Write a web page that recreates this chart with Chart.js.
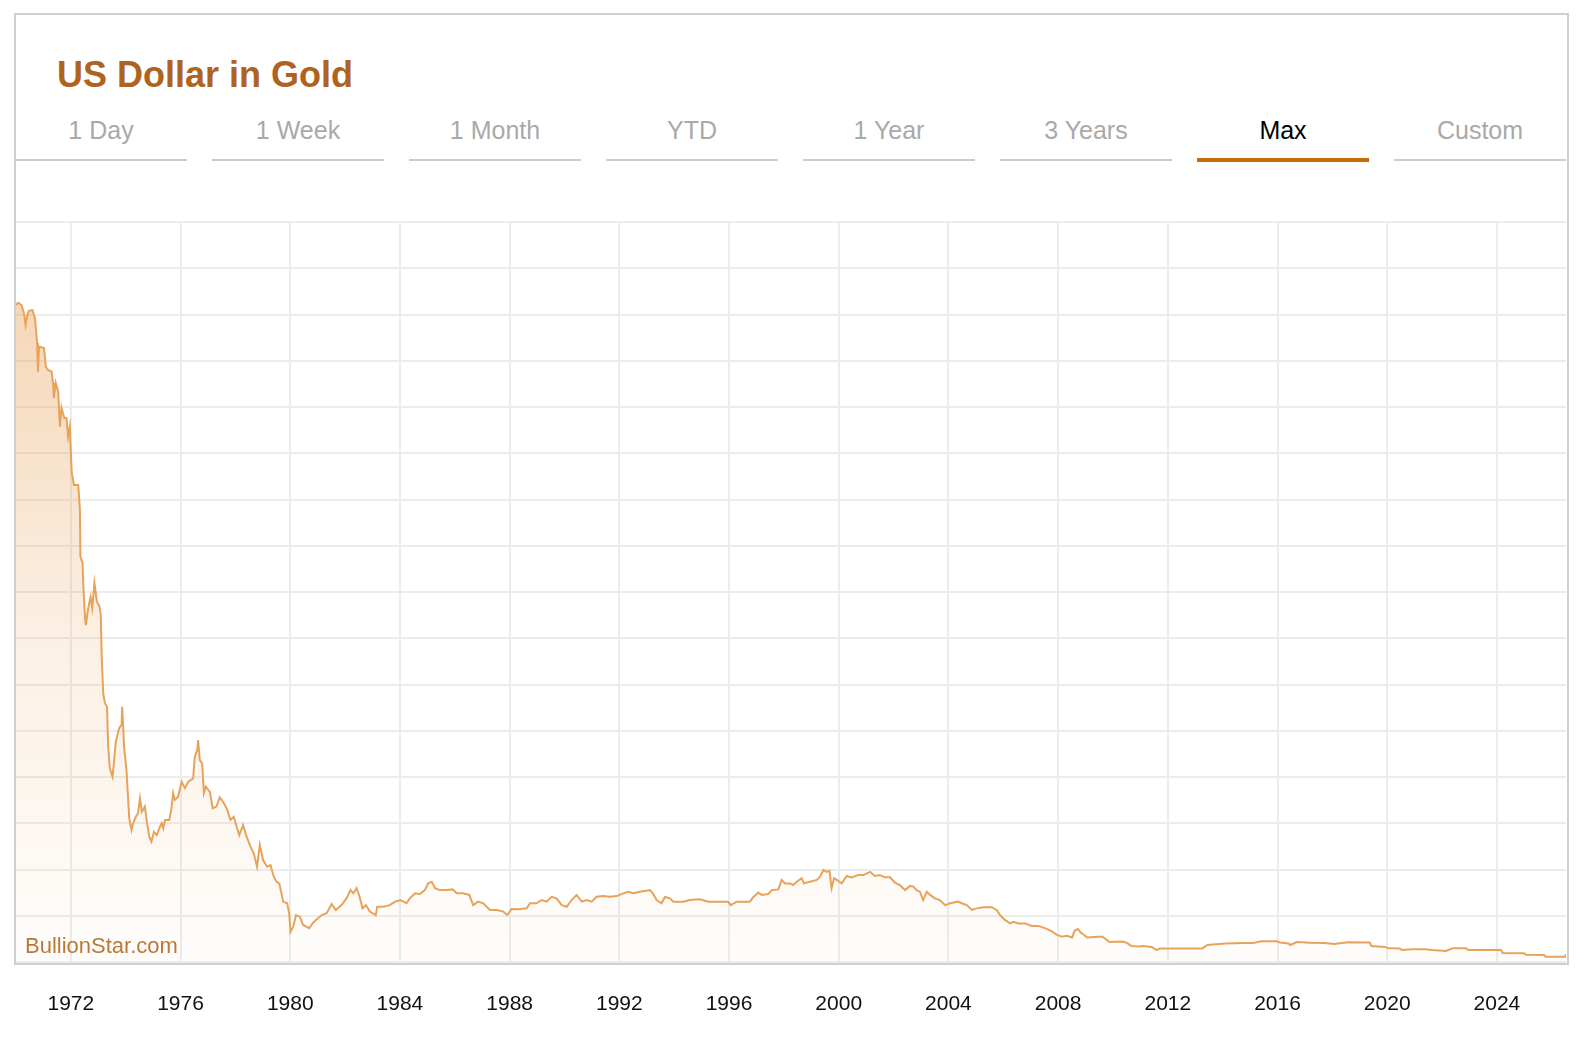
<!DOCTYPE html>
<html>
<head>
<meta charset="utf-8">
<title>US Dollar in Gold</title>
<script src="https://cdn.jsdelivr.net/npm/chart.js@4.4.0/dist/chart.umd.min.js"></script>
<style>
  body { margin: 0; background: #fff; font-family: "Liberation Sans", Arial, sans-serif; }
  .box { position: absolute; left: 14px; top: 13px; width: 1555px; height: 952px; box-sizing: border-box; border: 2px solid #cfcfcf; }
  .title { position: absolute; left: 57px; top: 57px; font-size: 36px; line-height: 36px; font-weight: bold; color: #b0631f; }
  .tab { position: absolute; top: 118px; width: 172px; text-align: center; font-size: 25px; line-height: 25px; color: #a9a9a9; }
  .tab.active { color: #000; }
  .line { position: absolute; top: 159px; width: 172px; height: 2px; background: #cccccc; }
  .line.active { top: 158px; height: 4px; background: #c66a0c; }
  .mark { position: absolute; left: 25px; top: 935px; font-size: 22px; line-height: 22px; color: #bb7934; }
  #chart { position: absolute; left: 16px; top: 212px; }
</style>
</head>
<body>
<div class="box"></div>
<div class="title">US Dollar in Gold</div>
<div id="tabs"></div>
<canvas id="chart" width="1550" height="828"></canvas>
<div class="mark">BullionStar.com</div>
<script>
// tabs
var tabNames = ["1 Day", "1 Week", "1 Month", "YTD", "1 Year", "3 Years", "Max", "Custom"];
var tabs = document.getElementById("tabs");
tabNames.forEach(function (name, i) {
  var left = 15 + i * 197;
  var t = document.createElement("div");
  t.className = "tab" + (name === "Max" ? " active" : "");
  t.style.left = left + "px";
  t.textContent = name;
  tabs.appendChild(t);
  var l = document.createElement("div");
  l.className = "line" + (name === "Max" ? " active" : "");
  l.style.left = left + "px";
  tabs.appendChild(l);
});

// years (decimal) and troy ounces of gold per 1000 USD
const years = [
  1970.00, 1970.08, 1970.20, 1970.29, 1970.35, 1970.41, 1970.47, 1970.60, 1970.69, 1970.72,
  1970.77, 1970.80, 1970.84, 1971.02, 1971.09, 1971.17, 1971.30, 1971.35, 1971.38, 1971.45,
  1971.54, 1971.60, 1971.66, 1971.76, 1971.84, 1971.90, 1971.96, 1972.03, 1972.11, 1972.27,
  1972.33, 1972.35, 1972.43, 1972.45, 1972.52, 1972.55, 1972.62, 1972.72, 1972.78, 1972.86,
  1972.95, 1973.04, 1973.09, 1973.13, 1973.18, 1973.24, 1973.32, 1973.36, 1973.42, 1973.52,
  1973.58, 1973.64, 1973.76, 1973.85, 1973.87, 1973.91, 1973.94, 1974.03, 1974.07, 1974.13,
  1974.21, 1974.27, 1974.37, 1974.45, 1974.52, 1974.59, 1974.70, 1974.78, 1974.86, 1974.94,
  1975.03, 1975.13, 1975.25, 1975.31, 1975.37, 1975.43, 1975.59, 1975.67, 1975.73, 1975.79,
  1975.91, 1976.04, 1976.16, 1976.28, 1976.46, 1976.52, 1976.61, 1976.64, 1976.70, 1976.79,
  1976.85, 1976.92, 1977.07, 1977.17, 1977.31, 1977.43, 1977.55, 1977.68, 1977.82, 1977.94,
  1978.14, 1978.28, 1978.41, 1978.55, 1978.67, 1978.79, 1978.89, 1979.01, 1979.16, 1979.28,
  1979.40, 1979.50, 1979.60, 1979.68, 1979.74, 1979.89, 1979.96, 1980.01, 1980.11, 1980.21,
  1980.35, 1980.47, 1980.69, 1980.84, 1981.02, 1981.15, 1981.33, 1981.51, 1981.66, 1981.87,
  1982.05, 1982.20, 1982.30, 1982.42, 1982.51, 1982.64, 1982.76, 1982.90, 1983.12, 1983.17,
  1983.39, 1983.63, 1983.82, 1984.02, 1984.24, 1984.36, 1984.55, 1984.73, 1984.91, 1985.03,
  1985.16, 1985.28, 1985.46, 1985.70, 1985.92, 1986.07, 1986.31, 1986.53, 1986.67, 1986.85,
  1987.04, 1987.28, 1987.53, 1987.77, 1987.91, 1988.07, 1988.31, 1988.62, 1988.74, 1988.98,
  1989.17, 1989.35, 1989.53, 1989.71, 1989.90, 1990.08, 1990.26, 1990.44, 1990.63, 1990.81,
  1990.99, 1991.17, 1991.41, 1991.66, 1991.90, 1992.14, 1992.32, 1992.51, 1992.75, 1993.12,
  1993.24, 1993.36, 1993.54, 1993.66, 1993.85, 1993.97, 1994.33, 1994.57, 1994.94, 1995.24,
  1995.55, 1995.97, 1996.06, 1996.28, 1996.76, 1996.88, 1997.07, 1997.19, 1997.43, 1997.56,
  1997.80, 1997.92, 1998.04, 1998.22, 1998.34, 1998.47, 1998.65, 1998.73, 1998.95, 1999.20,
  1999.32, 1999.44, 1999.56, 1999.66, 1999.74, 1999.83, 1999.93, 2000.11, 2000.29, 2000.47,
  2000.71, 2000.90, 2001.14, 2001.32, 2001.50, 2001.69, 2001.87, 2002.05, 2002.23, 2002.42,
  2002.60, 2002.72, 2002.84, 2002.96, 2003.08, 2003.21, 2003.33, 2003.51, 2003.69, 2003.88,
  2004.06, 2004.36, 2004.48, 2004.67, 2004.85, 2005.03, 2005.27, 2005.58, 2005.76, 2005.88,
  2006.06, 2006.25, 2006.37, 2006.55, 2006.79, 2007.04, 2007.28, 2007.59, 2007.77, 2007.96,
  2008.14, 2008.32, 2008.51, 2008.60, 2008.72, 2008.82, 2008.94, 2009.06, 2009.44, 2009.62,
  2009.74, 2009.87, 2010.30, 2010.48, 2010.67, 2010.98, 2011.10, 2011.41, 2011.59, 2011.72,
  2013.26, 2013.44, 2013.75, 2014.12, 2014.74, 2015.11, 2015.41, 2015.97, 2016.09, 2016.40,
  2016.46, 2016.71, 2017.20, 2017.70, 2018.07, 2018.56, 2019.36, 2019.42, 2019.91, 2020.04,
  2020.47, 2020.53, 2020.90, 2021.40, 2021.64, 2022.14, 2022.38, 2022.88, 2022.95, 2024.15,
  2024.21, 2024.99, 2025.06, 2025.72, 2025.78, 2026.49, 2026.52
];
const ozPer1000 = [
  28.41, 28.51, 28.41, 28.06, 27.55, 27.98, 28.16, 28.19, 27.85, 27.47,
  26.77, 25.53, 26.61, 26.55, 25.74, 25.60, 25.53, 25.04, 24.39, 25.04,
  24.66, 23.15, 23.96, 23.52, 23.52, 22.72, 23.15, 21.20, 20.63, 20.63,
  19.55, 17.53, 17.25, 16.39, 14.79, 14.57, 15.22, 15.78, 15.31, 16.39,
  15.58, 15.39, 15.01, 13.06, 11.63, 11.20, 11.04, 9.31, 8.39, 8.01,
  8.74, 9.53, 10.11, 10.25, 11.04, 10.18, 9.31, 8.30, 7.44, 6.21,
  5.71, 6.00, 6.28, 6.43, 7.08, 6.50, 6.72, 6.00, 5.42, 5.20,
  5.63, 5.49, 5.85, 6.00, 5.78, 6.14, 6.14, 6.65, 7.30, 7.01,
  7.15, 7.80, 7.52, 7.80, 7.94, 8.88, 9.17, 9.60, 8.74, 8.59,
  7.30, 7.58, 7.36, 6.65, 6.72, 7.12, 6.93, 6.65, 6.14, 6.28,
  5.49, 5.92, 5.42, 4.99, 4.70, 4.12, 5.06, 4.41, 4.12, 4.19,
  3.69, 3.47, 3.40, 2.97, 2.61, 2.54, 2.11, 1.30, 1.53, 2.03,
  1.96, 1.60, 1.46, 1.71, 1.90, 2.03, 2.11, 2.51, 2.25, 2.46,
  2.75, 3.11, 2.97, 3.19, 2.90, 2.32, 2.46, 2.18, 2.03, 2.39,
  2.39, 2.46, 2.61, 2.68, 2.54, 2.75, 2.97, 2.94, 3.11, 3.40,
  3.47, 3.19, 3.11, 3.11, 3.14, 2.97, 2.97, 2.90, 2.46, 2.61,
  2.54, 2.25, 2.25, 2.18, 2.03, 2.29, 2.28, 2.32, 2.54, 2.54,
  2.68, 2.61, 2.82, 2.75, 2.46, 2.39, 2.68, 2.90, 2.61, 2.68,
  2.61, 2.82, 2.85, 2.82, 2.85, 2.97, 3.04, 2.97, 3.04, 3.11,
  2.94, 2.68, 2.54, 2.81, 2.75, 2.61, 2.61, 2.68, 2.71, 2.61,
  2.61, 2.61, 2.46, 2.61, 2.61, 2.80, 3.00, 2.90, 2.94, 3.11,
  3.14, 3.55, 3.40, 3.40, 3.33, 3.47, 3.62, 3.40, 3.47, 3.55,
  3.69, 3.98, 3.90, 3.95, 3.19, 3.62, 3.55, 3.40, 3.72, 3.66,
  3.76, 3.76, 3.90, 3.72, 3.76, 3.66, 3.66, 3.43, 3.33, 3.11,
  3.29, 3.26, 3.11, 3.04, 2.68, 3.04, 2.90, 2.75, 2.68, 2.46,
  2.54, 2.61, 2.54, 2.46, 2.25, 2.32, 2.37, 2.37, 2.25, 2.03,
  1.82, 1.67, 1.74, 1.67, 1.67, 1.56, 1.56, 1.43, 1.32, 1.17,
  1.09, 1.13, 1.06, 1.35, 1.43, 1.28, 1.18, 1.06, 1.09, 1.09,
  0.986, 0.869, 0.886, 0.843, 0.696, 0.666, 0.696, 0.653, 0.519, 0.588,
  0.588, 0.739, 0.770, 0.796, 0.826, 0.826, 0.895, 0.895, 0.843, 0.800,
  0.735, 0.865, 0.835, 0.822, 0.778, 0.852, 0.843, 0.692, 0.653, 0.592,
  0.579, 0.519, 0.549, 0.549, 0.519, 0.476, 0.592, 0.592, 0.519, 0.519,
  0.389, 0.381, 0.316, 0.303, 0.225, 0.225, 0.346
];
const tickYears = [1972, 1976, 1980, 1984, 1988, 1992, 1996, 2000, 2004, 2008, 2012, 2016, 2020, 2024];

const points = years.map(function (y, i) {
  return { x: y, y: ozPer1000[i] };
});

function fillGradient(context) {
  var chart = context.chart;
  var area = chart.chartArea;
  if (!area) return "rgba(232,163,90,0.3)";
  var g = chart.ctx.createLinearGradient(0, area.top, 0, area.bottom);
  g.addColorStop(0, "rgba(232,163,90,0.5)");
  g.addColorStop(0.55, "rgba(232,163,90,0.17)");
  g.addColorStop(1, "rgba(232,163,90,0.02)");
  return g;
}

var ctx = document.getElementById("chart").getContext("2d");
var myChart = new Chart(ctx, {
  type: "line",
  data: {
    datasets: [
      {
        data: points,
        borderColor: "#e8a35a",
        borderWidth: 2,
        pointRadius: 0,
        tension: 0,
        fill: "origin",
        backgroundColor: fillGradient,
      },
    ],
  },
  options: {
    responsive: false,
    animation: false,
    layout: { padding: { top: 10, left: 0, right: 0, bottom: 0 } },
    plugins: {
      legend: { display: false },
      tooltip: { enabled: false },
    },
    scales: {
      x: {
        type: "linear",
        min: 1970,
        max: 2026.52,
        afterBuildTicks: function (scale) {
          scale.ticks = tickYears.map(function (v) {
            return { value: v };
          });
        },
        afterFit: function (scale) {
          scale.height = 78;
        },
        ticks: {
          autoSkip: false,
          maxRotation: 0,
          padding: 30,
          color: "#111",
          font: { family: "Liberation Sans, Arial, sans-serif", size: 21 },
          callback: function (v) {
            return String(v);
          },
        },
        grid: { color: "#ececec", lineWidth: 2, drawTicks: false },
        border: { display: false },
      },
      y: {
        min: 0,
        max: 32,
        afterFit: function (scale) {
          scale.width = 0;
        },
        ticks: { stepSize: 2, display: false },
        grid: { color: "#ececec", lineWidth: 2, drawTicks: false },
        border: { display: false },
      },
    },
  },
});
</script>
</body>
</html>
